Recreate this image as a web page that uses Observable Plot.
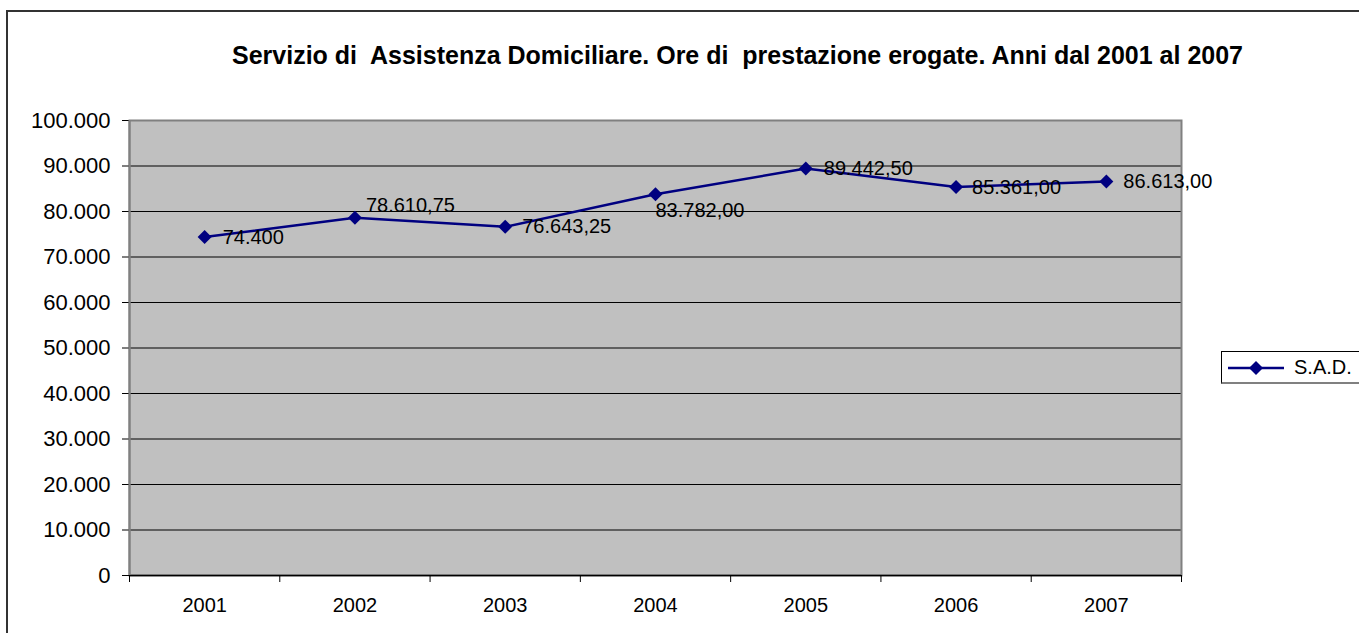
<!DOCTYPE html>
<html>
<head>
<meta charset="utf-8">
<script src="https://cdn.jsdelivr.net/npm/d3@7"></script>
<script src="https://cdn.jsdelivr.net/npm/@observablehq/plot@0.6"></script>
<style>
  html, body { margin: 0; padding: 0; background: #fff; overflow: hidden; }
  #wrap { position: relative; width: 1359px; height: 633px; font-family: "Liberation Sans", Arial, sans-serif; }
  #frame { position: absolute; left: 6px; top: 10px; width: 1400px; height: 700px; border-left: 2px solid #333; border-top: 2px solid #333; box-sizing: border-box; }
  #title { position: absolute; left: 0; width: 1475px; top: 40px; line-height: 30px; text-align: center; font-weight: bold; font-size: 25px; color: #000; white-space: pre; }
  #legend { position: absolute; left: 1221px; top: 351px; width: 160px; height: 33px; border: 1px solid #000; border-bottom: 2px solid #808080; box-sizing: border-box; background: #fff; }
  #legend svg { position: absolute; left: 0; top: 0; }
  #legend span { position: absolute; left: 72px; top: 4px; font-size: 20px; color: #000; }
  #chart { position: absolute; left: 0; top: 0; }
</style>
</head>
<body>
<div id="wrap">
  <div id="frame"></div>
  <div id="chart"></div>
  <div id="title">Servizio di  Assistenza Domiciliare. Ore di  prestazione erogate. Anni dal 2001 al 2007</div>
  <div id="legend">
    <svg width="70" height="33"><line x1="6" y1="16" x2="62" y2="16" stroke="#000080" stroke-width="2.5"/><path d="M34,9L41,16L34,23L27,16Z" fill="#000080"/></svg>
    <span>S.A.D.</span>
  </div>
</div>
<script>
const years = [2001, 2002, 2003, 2004, 2005, 2006, 2007];
const sadValues = [74400, 78610.75, 76643.25, 83782, 89442.5, 85361, 86613];
const valueLabels = ["74.400", "78.610,75", "76.643,25", "83.782,00", "89.442,50", "85.361,00", "86.613,00"];
const yTicks = [0, 10000, 20000, 30000, 40000, 50000, 60000, 70000, 80000, 90000, 100000];
const seriesName = "S.A.D.";

// label offsets (styling only)
const labelDx = [18, 11, 17, 0, 18, 16, 17];
const labelDy = [1, -12, 0, 16, 0, 0, 0];

const data = years.map((year, i) => ({year, value: sadValues[i], label: valueLabels[i], i}));

const itLocale = d3.formatLocale({decimal: ",", thousands: ".", grouping: [3], currency: ["", "€"]});
const fmtY = itLocale.format(",d");

const lineColor = "#000080";
const boundaries = d3.range(years[0] - 0.5, years[years.length - 1] + 1, 1);

const labelMarks = data.map(d => Plot.text([d], {
  x: "year", y: "value", text: "label",
  textAnchor: "start", dx: labelDx[d.i], dy: labelDy[d.i],
  fontSize: 20, fill: "#000"
}));

const chart = Plot.plot({
  width: 1359,
  height: 633,
  marginLeft: 129,
  marginRight: 178,
  marginTop: 120,
  marginBottom: 58,
  style: {fontFamily: "'Liberation Sans', Arial, sans-serif", background: "transparent", overflow: "visible"},
  x: {domain: [years[0] - 0.5, years[years.length - 1] + 0.5]},
  y: {domain: [0, 100000]},
  marks: [
    Plot.frame({fill: "#C0C0C0"}),
    Plot.ruleY(yTicks.slice(1, -1), {stroke: "#000", strokeWidth: 1}),
    Plot.frame({stroke: "#808080", strokeWidth: 2}),
    Plot.ruleY([0], {stroke: "#000", strokeWidth: 1.5}),
    Plot.axisY({ticks: yTicks, tickFormat: fmtY, tickSize: 7, tickPadding: 12, fontSize: 22, label: null, stroke: "#000", color: "#000"}),
    Plot.ruleX([years[0] - 0.5], {stroke: "#808080", strokeWidth: 2}),
    Plot.axisX({ticks: boundaries, tickFormat: () => "", tickSize: 7, label: null, stroke: "#000"}),
    Plot.axisX({ticks: years, tickFormat: d => String(d), tickSize: 0, tickPadding: 22, fontSize: 20, label: null, color: "#000"}),
    Plot.line(data, {x: "year", y: "value", stroke: lineColor, strokeWidth: 2.5}),
    Plot.dot(data, {x: "year", y: "value", symbol: "diamond2", r: 6.3, fill: lineColor, stroke: "none"}),
    ...labelMarks
  ]
});
document.getElementById("chart").appendChild(chart);
</script>
</body>
</html>
